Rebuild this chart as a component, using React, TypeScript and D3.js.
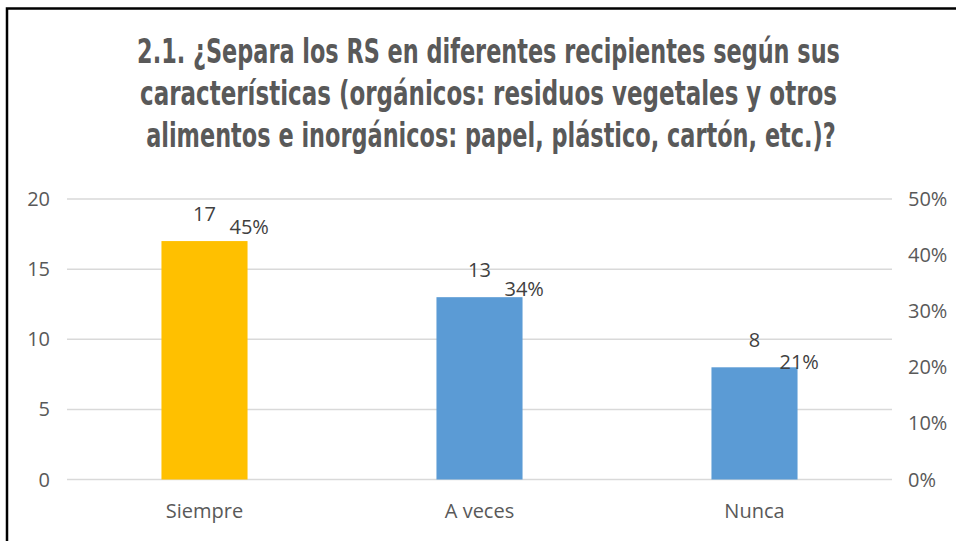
import React from "react";
import * as d3 from "d3";

const categories = ["Siempre", "A veces", "Nunca"];
const counts = [17, 13, 8];
const percents = [0.45, 0.34, 0.21];
const barColors = ["#FFC000", "#5B9BD5", "#5B9BD5"];
const leftTicks = [0, 5, 10, 15, 20];
const rightTicks = [0, 0.1, 0.2, 0.3, 0.4, 0.5];
const titleLines = [
  "2.1. ¿Separa los RS en diferentes recipientes según sus",
  "características (orgánicos: residuos vegetales y otros",
  "alimentos e inorgánicos: papel, plástico, cartón, etc.)?",
];

const W = 956;
const H = 541;
const plotLeft = 67;
const plotRight = 892;
const plotTop = 199;
const plotBottom = 479.5;

const titleFontSize = 34;
const titleFont = `bold ${titleFontSize}px 'DejaVu Sans Condensed', 'DejaVu Sans', sans-serif`;

function measure(t: string): number {
  const c = document.createElement("canvas").getContext("2d");
  if (!c) return t.length * titleFontSize * 0.55;
  c.font = titleFont;
  return c.measureText(t).width;
}

export default function App() {
  const x = d3.scaleBand<string>().domain(categories).range([plotLeft, plotRight]).paddingInner(0.687).paddingOuter(0.3435);
  const y = d3.scaleLinear().domain([0, 20]).range([plotBottom, plotTop]);
  const y2 = d3.scaleLinear().domain([0, 0.5]).range([plotBottom, plotTop]);
  const pctFmt = d3.format(".0%");
  const textColor = "#595959";
  const font = "'Open Sans', sans-serif";
  const titleSpecs = [
    { x0: 137, x1: 840, base: 63 },
    { x0: 140, x1: 837, base: 105 },
    { x0: 146, x1: 836, base: 147 },
  ];

  return (
    <div style={{ position: "absolute", left: 0, top: 0 }}>
      <svg width={W} height={H} style={{ display: "block", background: "#fff" }}>
        <rect x={7} y={8.5} width={970} height={600} fill="#fff" stroke="#000" strokeWidth={2.5} />
        {titleLines.map((t, i) => {
          const s = titleSpecs[i];
          const sx = (s.x1 - s.x0) / measure(t);
          return (
            <g key={i} transform={`translate(${(s.x0 + s.x1) / 2},${s.base}) scale(${sx},1)`}>
              <text
                x={0}
                y={0}
                textAnchor="middle"
                fontFamily="'DejaVu Sans Condensed', 'DejaVu Sans', sans-serif"
                fontWeight="bold"
                fontSize={titleFontSize}
                fill={textColor}
              >
                {t}
              </text>
            </g>
          );
        })}
        {leftTicks.map((v) => (
          <line key={v} x1={plotLeft} x2={plotRight} y1={y(v)} y2={y(v)} stroke="#D9D9D9" strokeWidth={1.5} />
        ))}
        {leftTicks.map((v) => (
          <text key={"l" + v} x={50} y={y(v)} dy="0.35em" textAnchor="end" fontFamily={font} fontSize={20} fill={textColor}>
            {v}
          </text>
        ))}
        {rightTicks.map((v) => (
          <text key={"r" + v} x={908} y={y2(v)} dy="0.35em" textAnchor="start" fontFamily={font} fontSize={20} fill={textColor}>
            {pctFmt(v)}
          </text>
        ))}
        {categories.map((c, i) => (
          <rect key={c} x={x(c)} y={y(counts[i])} width={x.bandwidth()} height={plotBottom - y(counts[i])} fill={barColors[i]} />
        ))}
        {categories.map((c, i) => (
          <text key={"c" + c} x={(x(c) as number) + x.bandwidth() / 2} y={y(counts[i]) - 27} dy="0.35em" textAnchor="middle" fontFamily={font} fontSize={20} fill="#404040">
            {counts[i]}
          </text>
        ))}
        {categories.map((c, i) => (
          <text key={"p" + c} x={(x(c) as number) + x.bandwidth() / 2 + 25} y={y2(percents[i])} dy="0.35em" textAnchor="start" fontFamily={font} fontSize={20} fill="#404040">
            {pctFmt(percents[i])}
          </text>
        ))}
        {categories.map((c) => (
          <text key={"x" + c} x={(x(c) as number) + x.bandwidth() / 2} y={518} textAnchor="middle" fontFamily={font} fontSize={20} fill={textColor}>
            {c}
          </text>
        ))}
      </svg>
    </div>
  );
}
